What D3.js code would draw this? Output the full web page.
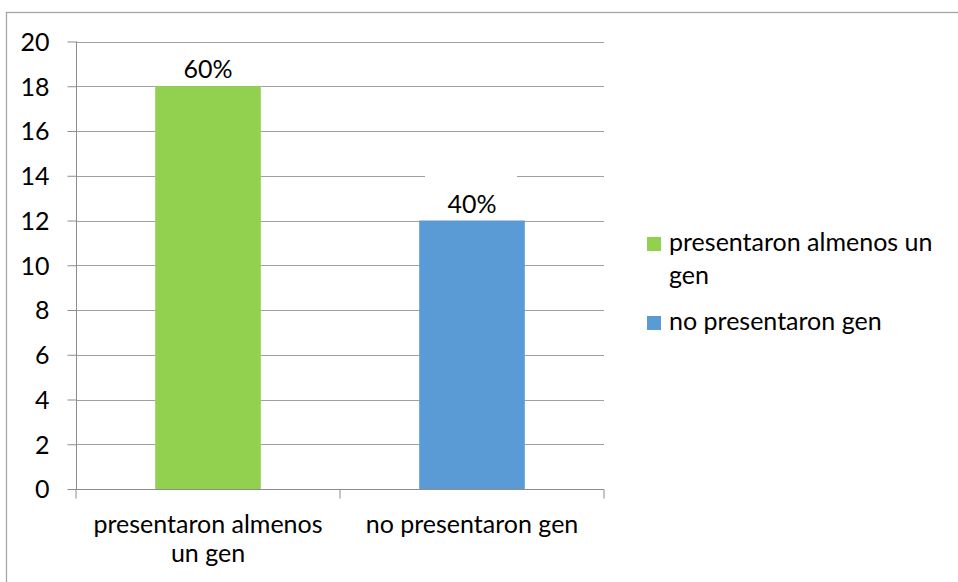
<!DOCTYPE html>
<html><head><meta charset="utf-8">
<script src="https://cdn.jsdelivr.net/npm/d3@7"></script>
<style>body{margin:0;background:#fff}svg{display:block}text{font-family:Lato,"Liberation Sans",sans-serif;fill:#000}</style>
</head><body><svg id="c" width="958" height="582"></svg>
<script>
const categories = ["presentaron almenos un gen", "no presentaron gen"];
const values = [18, 12];
const dataLabels = ["60%", "40%"];
const colors = ["#92D050", "#5B9BD5"];
const yTicks = [0, 2, 4, 6, 8, 10, 12, 14, 16, 18, 20];
const xLabelLines = [["presentaron almenos", "un gen"], ["no presentaron gen"]];
const legendLines = [["presentaron almenos un", "gen"], ["no presentaron gen"]];

const svg = d3.select("#c");
const FS = 25;
// outer border (top and left visible)
svg.append("rect").attr("x", 6.5).attr("y", 12.5).attr("width", 960).attr("height", 580)
  .attr("fill", "none").attr("stroke", "#A6A6A6").attr("stroke-width", 1.3);

const x = d3.scaleBand().domain(categories).range([76, 604]).paddingInner(0.6).paddingOuter(0.3);
const y = d3.scaleLinear().domain([0, 20]).range([489, 41.5]);

// gridlines
svg.append("g").selectAll("line").data(yTicks.filter(t => t > 0)).join("line")
  .attr("x1", 76).attr("x2", 604).attr("y1", d => Math.round(y(d)) + 0.5).attr("y2", d => Math.round(y(d)) + 0.5)
  .attr("stroke", "#A0A0A0").attr("stroke-width", 1.2);

// y axis
const ya = svg.append("g").attr("transform", "translate(76.5,0)")
  .call(d3.axisLeft(y).tickValues(yTicks).tickSize(9).tickPadding(18).tickFormat(d3.format("d")));
ya.select(".domain").attr("stroke", "#8C8C8C").attr("d", `M0,${y(20)}V${y(0)}`);
ya.selectAll(".tick line").attr("stroke", "#8C8C8C");
ya.selectAll(".tick text").attr("font-size", FS).attr("font-family", "Lato,'Liberation Sans',sans-serif").attr("dy", "0.35em");

// bars
svg.append("g").selectAll("rect").data(categories).join("rect")
  .attr("x", d => x(d)).attr("width", x.bandwidth())
  .attr("y", (d, i) => y(values[i])).attr("height", (d, i) => y(0) - y(values[i]))
  .attr("fill", (d, i) => colors[i]);

// x axis
const xa = svg.append("g").attr("transform", `translate(0,${Math.round(y(0)) + 0.5})`);
xa.append("line").attr("x1", 76).attr("x2", 604).attr("stroke", "#8C8C8C").attr("stroke-width", 1.2);
const bounds = [76, 76 + x.step(), 604];
xa.selectAll("line.t").data(bounds).join("line").attr("class", "t")
  .attr("x1", d => d).attr("x2", d => d).attr("y1", 0).attr("y2", 9).attr("stroke", "#8C8C8C");
categories.forEach((c, i) => {
  const cx = x(c) + x.bandwidth() / 2;
  xLabelLines[i].forEach((ln, j) => {
    svg.append("text").attr("x", cx).attr("y", 533 + j * 29).attr("text-anchor", "middle")
      .attr("font-size", FS).text(ln);
  });
});

// data labels
categories.forEach((c, i) => {
  const cx = x(c) + x.bandwidth() / 2;
  if (i === 1) {
    svg.append("rect").attr("x", cx - 47).attr("y", y(14)).attr("width", 92).attr("height", y(values[i]) - y(14) - 1)
      .attr("fill", "#fff");
  }
  svg.append("text").attr("x", cx).attr("y", y(values[i]) - 8).attr("text-anchor", "middle")
    .attr("font-size", FS).text(dataLabels[i]);
});

// legend
const legBase = [251, 330];
categories.forEach((c, i) => {
  svg.append("rect").attr("x", 647).attr("y", legBase[i] - 14).attr("width", 14).attr("height", 14).attr("fill", colors[i]);
  legendLines[i].forEach((ln, j) => {
    svg.append("text").attr("x", 669).attr("y", legBase[i] + j * 32.5).attr("font-size", FS).text(ln);
  });
});
</script></body></html>
